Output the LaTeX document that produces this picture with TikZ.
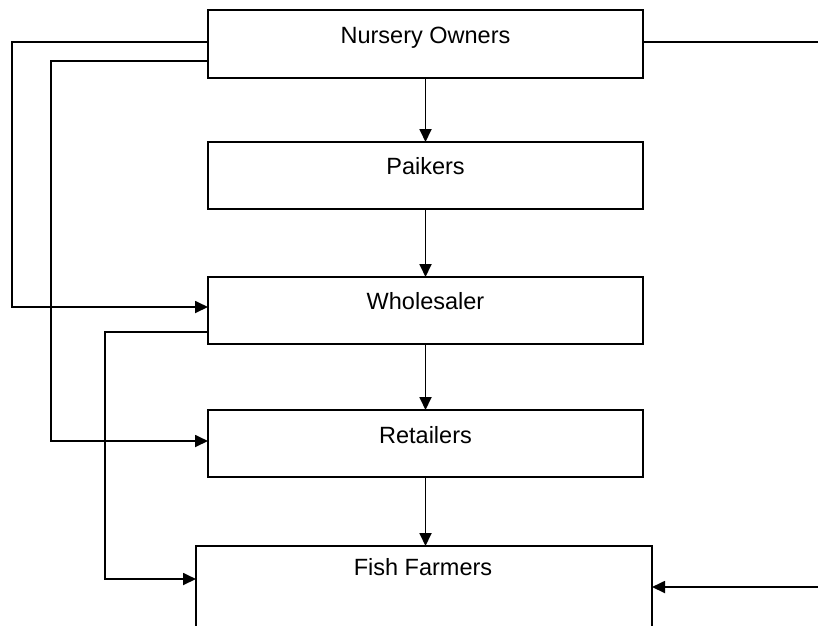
\documentclass[tikz,border=0pt]{standalone}
\usepackage{fontspec}
\setmainfont{Liberation Sans}
\usetikzlibrary{arrows.meta,calc}
\begin{document}
\begin{tikzpicture}[x=1pt,y=-1pt,
  box/.style={draw,line width=1.8pt,inner sep=0pt,outer sep=0pt},
  lbl/.style={font=\fontsize{23.5}{28}\selectfont,anchor=base,inner sep=0pt},
  conn/.style={line width=1.8pt},
  arr/.style={conn,-{Triangle[length=13pt,width=12pt]}}]
\useasboundingbox (0,0) rectangle (818,625);
\clip (0,0) rectangle (818,625);
% boxes
\node[box,minimum width=435pt,minimum height=68pt] (n) at (425.5,44) {};
\node[box,minimum width=435pt,minimum height=67pt] (p) at (425.5,175.5) {};
\node[box,minimum width=435pt,minimum height=67pt] (w) at (425.5,310.5) {};
\node[box,minimum width=435pt,minimum height=67pt] (r) at (425.5,443.5) {};
\node[box,minimum width=456pt,minimum height=160pt] (f) at (424,626) {};
% labels
\node[lbl] (tn) at (425.5,43) {Nursery Owners};
\node[lbl] (tp) at (425.5,174) {Paikers};
\node[lbl] (tw) at (425.5,309) {Wholesaler};
\node[lbl] (tr) at (425.5,443) {Retailers};
\node[lbl] (tf) at (423,575) {Fish Farmers};
% free ends at the right edge
\coordinate (e1) at (818,42);
\coordinate (e2) at (818,587);
% vertical chain
\draw[arr] (n.south) -- (p.north);
\draw[arr] (p.south) -- (w.north);
\draw[arr] (w.south) -- (r.north);
\draw[arr] (r.south) -- (r.south |- f.north);
% left bypasses
\draw[arr] (n.west |- 0,42) -| (12,307) -- (w.west |- 0,307);
\draw[arr] (n.west |- 0,61) -| (51,441) -- (r.west |- 0,441);
\draw[arr] (w.west |- 0,332) -| (105,579) -- (f.west |- 0,579);
% right lines
\draw[conn] (n.east |- e1) -- (e1);
\draw[arr] (e2) -- (f.east |- e2);
\end{tikzpicture}
\end{document}
